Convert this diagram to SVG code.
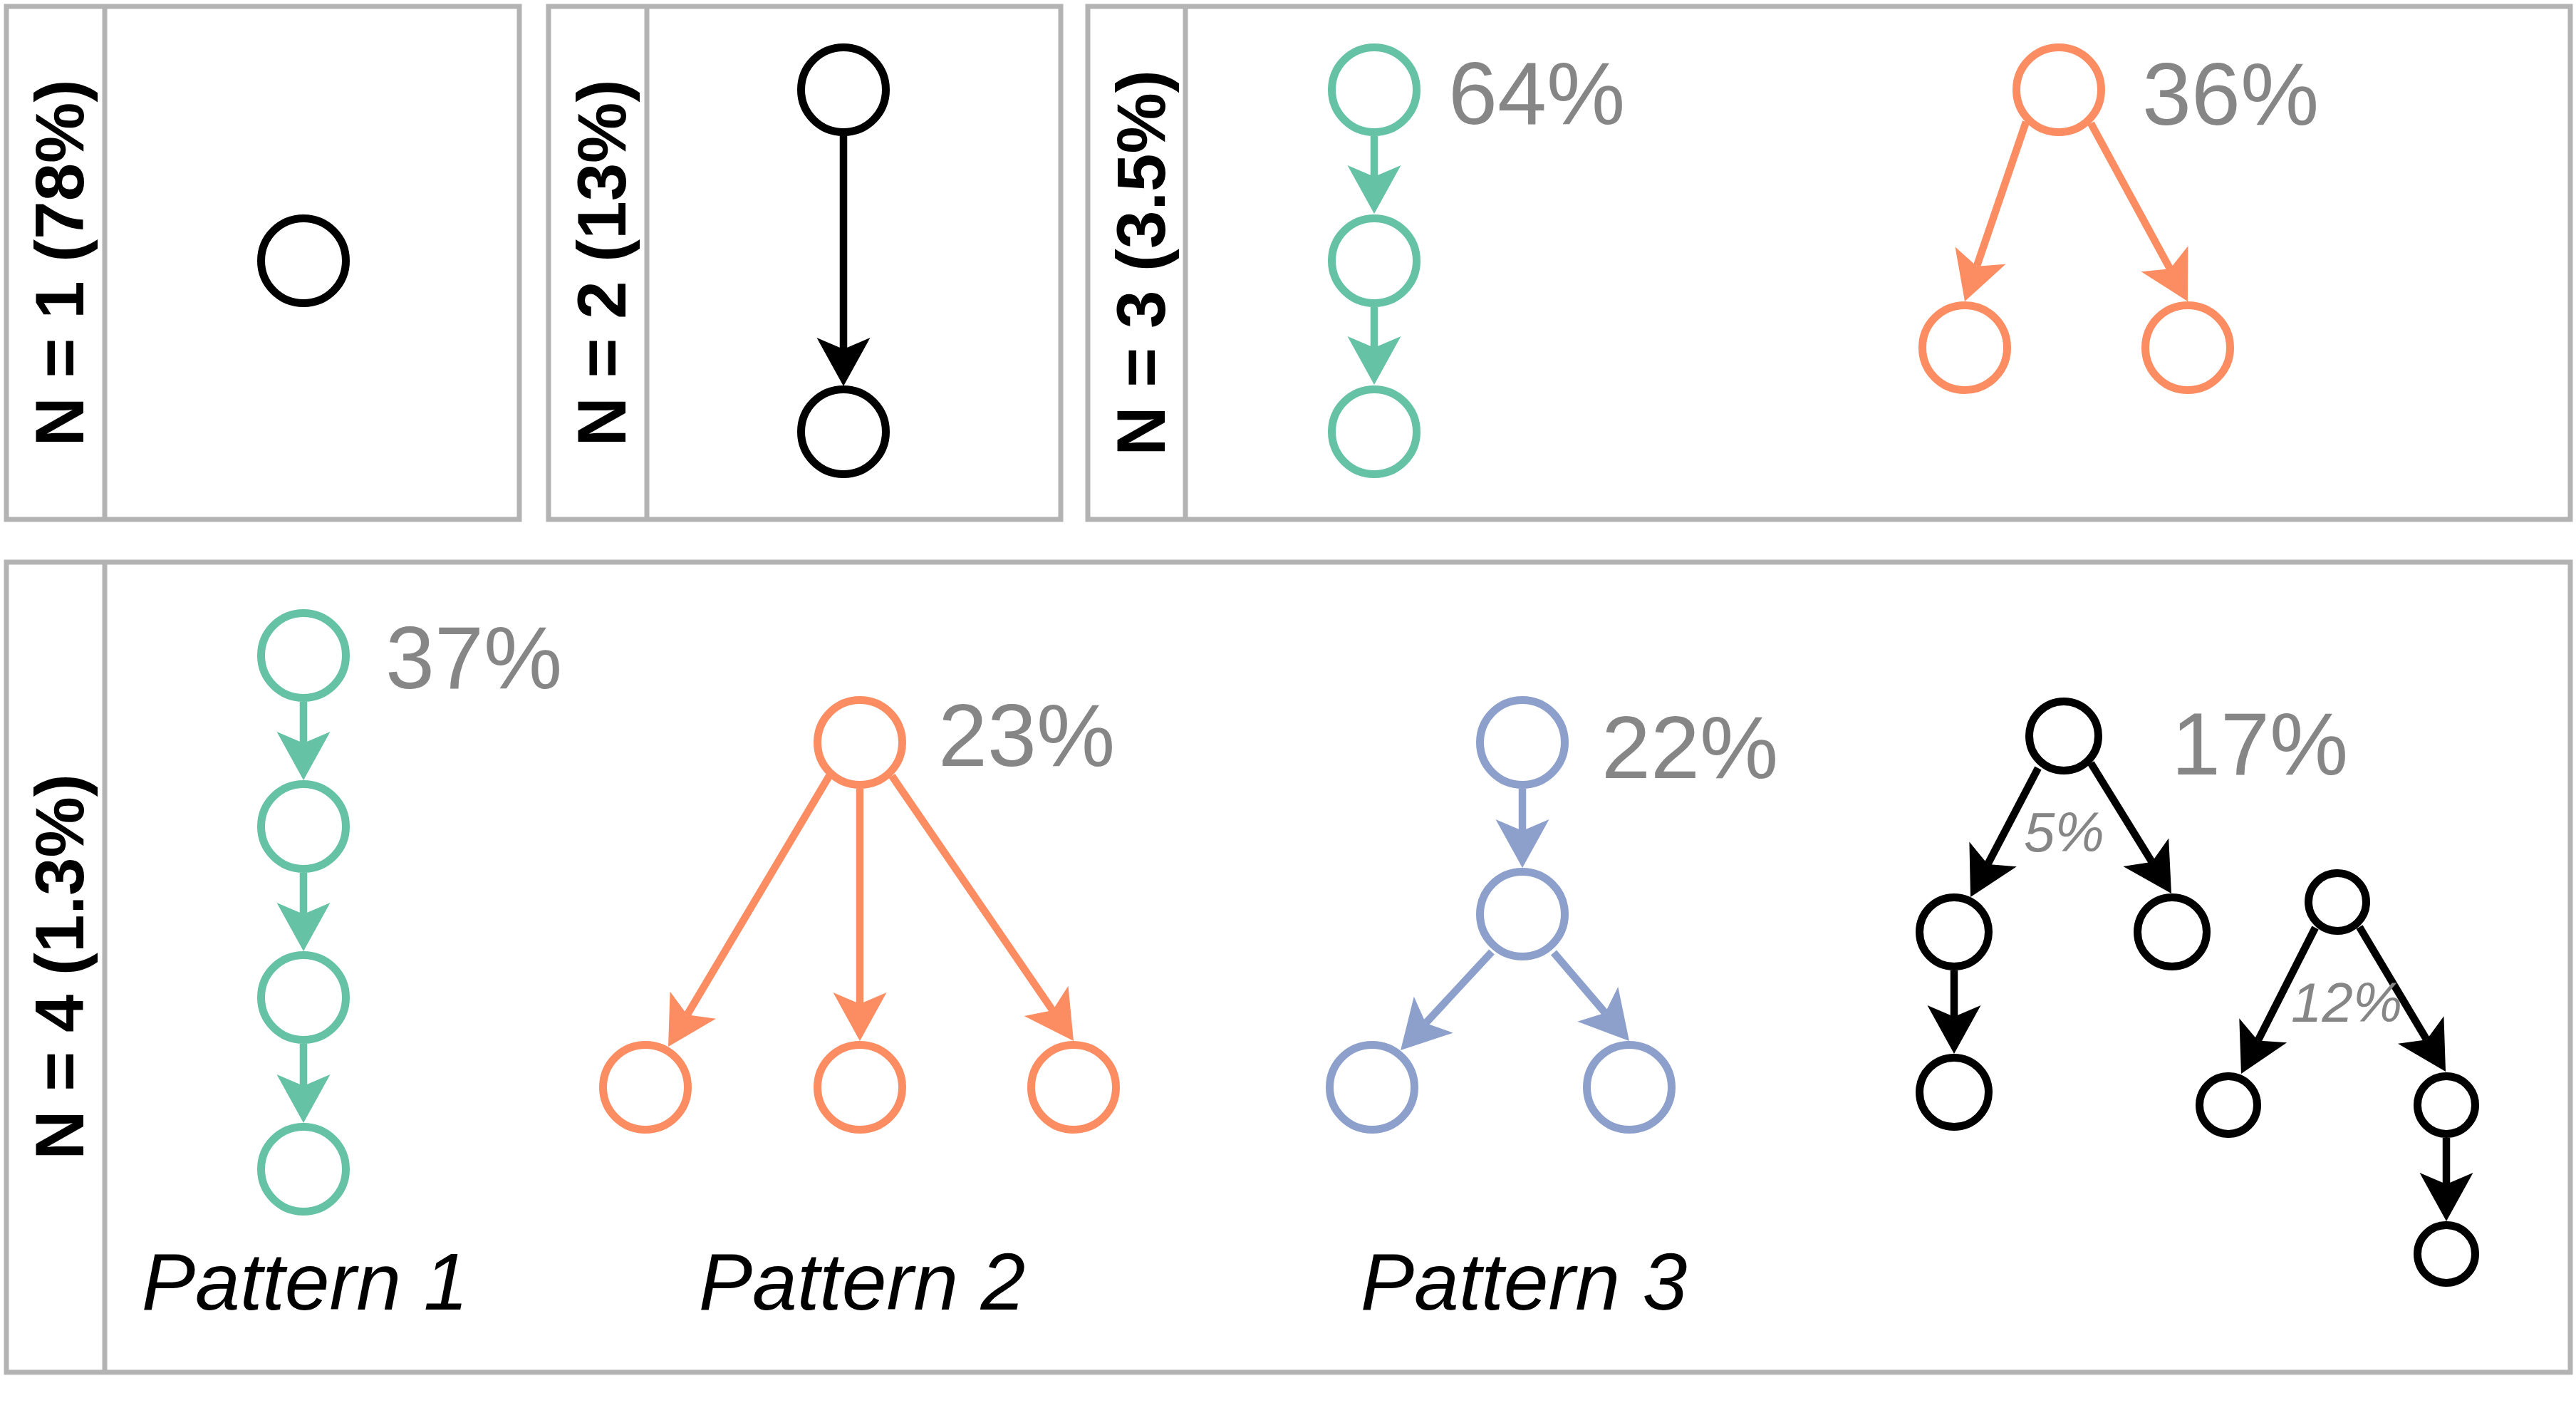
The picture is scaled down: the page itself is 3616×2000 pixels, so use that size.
<svg xmlns="http://www.w3.org/2000/svg" width="3616" height="2000" viewBox="0 0 3616 2000">
<style>
.panel{fill:none;stroke:#b3b3b3;stroke-width:7}
.lab{font-family:"Liberation Sans",Arial,sans-serif;font-weight:bold;font-size:96px;fill:#000;text-anchor:middle}
.pct{font-family:"Liberation Sans",Arial,sans-serif;font-size:124px;fill:#868686}
.pcts{font-family:"Liberation Sans",Arial,sans-serif;font-style:italic;font-size:78px;fill:#868686}
.pat{font-family:"Liberation Sans",Arial,sans-serif;font-style:italic;font-size:113px;fill:#000;text-anchor:middle}
.n{fill:#fff;stroke-width:11}
.k{stroke:#000}.g{stroke:#66c2a5}.o{stroke:#fc8d62}.b{stroke:#8da0cb}
.e{stroke-width:10.5;fill:none}
</style>
<defs>
<marker id="ak" markerUnits="userSpaceOnUse" orient="auto" overflow="visible" markerWidth="10" markerHeight="10" refX="0" refY="0"><path d="M52,0 L-16,-37.5 L0,0 L-16,37.5 Z" fill="#000"/></marker>
<marker id="ag" markerUnits="userSpaceOnUse" orient="auto" overflow="visible" markerWidth="10" markerHeight="10" refX="0" refY="0"><path d="M52,0 L-16,-37.5 L0,0 L-16,37.5 Z" fill="#66c2a5"/></marker>
<marker id="ao" markerUnits="userSpaceOnUse" orient="auto" overflow="visible" markerWidth="10" markerHeight="10" refX="0" refY="0"><path d="M52,0 L-16,-37.5 L0,0 L-16,37.5 Z" fill="#fc8d62"/></marker>
<marker id="ab" markerUnits="userSpaceOnUse" orient="auto" overflow="visible" markerWidth="10" markerHeight="10" refX="0" refY="0"><path d="M52,0 L-16,-37.5 L0,0 L-16,37.5 Z" fill="#8da0cb"/></marker>
</defs>
<rect width="3616" height="2000" fill="#fff"/>
<g id="panels">
<rect class="panel" x="9" y="9" width="720" height="720"/><line class="panel" x1="147" y1="9" x2="147" y2="729"/>
<rect class="panel" x="770" y="9" width="719" height="720"/><line class="panel" x1="908" y1="9" x2="908" y2="729"/>
<rect class="panel" x="1527" y="9" width="2081" height="720"/><line class="panel" x1="1664" y1="9" x2="1664" y2="729"/>
<rect class="panel" x="9" y="789" width="3599" height="1137"/><line class="panel" x1="147" y1="789" x2="147" y2="1926"/>
</g>
<g id="panel-labels">
<text class="lab" transform="translate(117,369) rotate(-90)">N = 1 (78%)</text>
<text class="lab" transform="translate(878,369) rotate(-90)">N = 2 (13%)</text>
<text class="lab" transform="translate(1635,369) rotate(-90)">N = 3 (3.5%)</text>
<text class="lab" transform="translate(117,1357) rotate(-90)">N = 4 (1.3%)</text>
</g>
<g id="connectors">
<line class="e" stroke="#000" x1="1184" y1="190" x2="1184" y2="490" marker-end="url(#ak)"/>
<line class="e" stroke="#66c2a5" x1="1929" y1="191" x2="1929" y2="248" marker-end="url(#ag)"/>
<line class="e" stroke="#66c2a5" x1="1929" y1="431" x2="1929" y2="488" marker-end="url(#ag)"/>
<line class="e" stroke="#fc8d62" x1="2844" y1="171" x2="2774.8" y2="373.8" marker-end="url(#ao)"/>
<line class="e" stroke="#fc8d62" x1="2935" y1="173" x2="3046.1" y2="377.3" marker-end="url(#ao)"/>
<line class="e" stroke="#66c2a5" x1="426" y1="985" x2="426" y2="1043" marker-end="url(#ag)"/>
<line class="e" stroke="#66c2a5" x1="426" y1="1225" x2="426" y2="1283" marker-end="url(#ag)"/>
<line class="e" stroke="#66c2a5" x1="426" y1="1465" x2="426" y2="1524" marker-end="url(#ag)"/>
<line class="e" stroke="#fc8d62" x1="1164" y1="1089" x2="964.6" y2="1424.3" marker-end="url(#ao)"/>
<line class="e" stroke="#fc8d62" x1="1207" y1="1107" x2="1207" y2="1409" marker-end="url(#ao)"/>
<line class="e" stroke="#fc8d62" x1="1252" y1="1089" x2="1477.6" y2="1418.1" marker-end="url(#ao)"/>
<line class="e" stroke="#8da0cb" x1="2137" y1="1107" x2="2137" y2="1166" marker-end="url(#ab)"/>
<line class="e" stroke="#8da0cb" x1="2094" y1="1336" x2="2001.4" y2="1435.9" marker-end="url(#ab)"/>
<line class="e" stroke="#8da0cb" x1="2181" y1="1337" x2="2253.2" y2="1421.5" marker-end="url(#ab)"/>
<line class="e" stroke="#000" x1="2861" y1="1078" x2="2790.2" y2="1213" marker-end="url(#ak)"/>
<line class="e" stroke="#000" x1="2935" y1="1071" x2="3020.7" y2="1209.8" marker-end="url(#ak)"/>
<line class="e" stroke="#000" x1="2743" y1="1362" x2="2743" y2="1427" marker-end="url(#ak)"/>
<line class="e" stroke="#000" x1="3250" y1="1302" x2="3169.5" y2="1460.6" marker-end="url(#ak)"/>
<line class="e" stroke="#000" x1="3312" y1="1301" x2="3406.4" y2="1459.3" marker-end="url(#ak)"/>
<line class="e" stroke="#000" x1="3434" y1="1597" x2="3434" y2="1662" marker-end="url(#ak)"/>
</g>
<g id="n1-a"><circle class="n k" cx="426" cy="366" r="59.5"/></g>
<g id="n2-a"><circle class="n k" cx="1184" cy="126" r="59.5"/></g>
<g id="n2-b"><circle class="n k" cx="1184" cy="606" r="59.5"/></g>
<g id="n3-chain-a"><circle class="n g" cx="1929" cy="126" r="59.5"/></g>
<g id="n3-chain-b"><circle class="n g" cx="1929" cy="366" r="59.5"/></g>
<g id="n3-chain-c"><circle class="n g" cx="1929" cy="606" r="59.5"/></g>
<g id="n3-fork-root"><circle class="n o" cx="2890" cy="126" r="59.5"/></g>
<g id="n3-fork-left"><circle class="n o" cx="2758" cy="488" r="59.5"/></g>
<g id="n3-fork-right"><circle class="n o" cx="3071" cy="488" r="59.5"/></g>
<g id="p1-a"><circle class="n g" cx="426" cy="920" r="59.5"/></g>
<g id="p1-b"><circle class="n g" cx="426" cy="1160" r="59.5"/></g>
<g id="p1-c"><circle class="n g" cx="426" cy="1400" r="59.5"/></g>
<g id="p1-d"><circle class="n g" cx="426" cy="1641" r="59.5"/></g>
<g id="p2-root"><circle class="n o" cx="1207" cy="1042" r="59.5"/></g>
<g id="p2-left"><circle class="n o" cx="906" cy="1526" r="59.5"/></g>
<g id="p2-mid"><circle class="n o" cx="1207" cy="1526" r="59.5"/></g>
<g id="p2-right"><circle class="n o" cx="1507" cy="1526" r="59.5"/></g>
<g id="p3-root"><circle class="n b" cx="2137" cy="1042" r="59.5"/></g>
<g id="p3-mid"><circle class="n b" cx="2137" cy="1283" r="59.5"/></g>
<g id="p3-left"><circle class="n b" cx="1926" cy="1526" r="59.5"/></g>
<g id="p3-right"><circle class="n b" cx="2287" cy="1526" r="59.5"/></g>
<g id="t1-root"><circle class="n k" cx="2897" cy="1033" r="48.5"/></g>
<g id="t1-left"><circle class="n k" cx="2743" cy="1308" r="48.5"/></g>
<g id="t1-right"><circle class="n k" cx="3049" cy="1308" r="48.5"/></g>
<g id="t1-leaf"><circle class="n k" cx="2743" cy="1533" r="48.5"/></g>
<g id="t2-root"><circle class="n k" cx="3281" cy="1266" r="40.5"/></g>
<g id="t2-left"><circle class="n k" cx="3128" cy="1551" r="40.5"/></g>
<g id="t2-right"><circle class="n k" cx="3434" cy="1551" r="40.5"/></g>
<g id="t2-leaf"><circle class="n k" cx="3434" cy="1760" r="40.5"/></g>
<g id="percentages">
<text class="pct" x="2033" y="174">64%</text>
<text class="pct" x="3007" y="175">36%</text>
<text class="pct" x="541" y="966">37%</text>
<text class="pct" x="1317" y="1075">23%</text>
<text class="pct" x="2248" y="1092">22%</text>
<text class="pct" x="3048" y="1087">17%</text>
<text class="pcts" x="2841" y="1195">5%</text>
<text class="pcts" x="3216" y="1434">12%</text>
</g>
<g id="pattern-labels">
<text class="pat" x="428" y="1838">Pattern 1</text>
<text class="pat" x="1210" y="1838">Pattern 2</text>
<text class="pat" x="2139" y="1838">Pattern 3</text>
</g>
</svg>
